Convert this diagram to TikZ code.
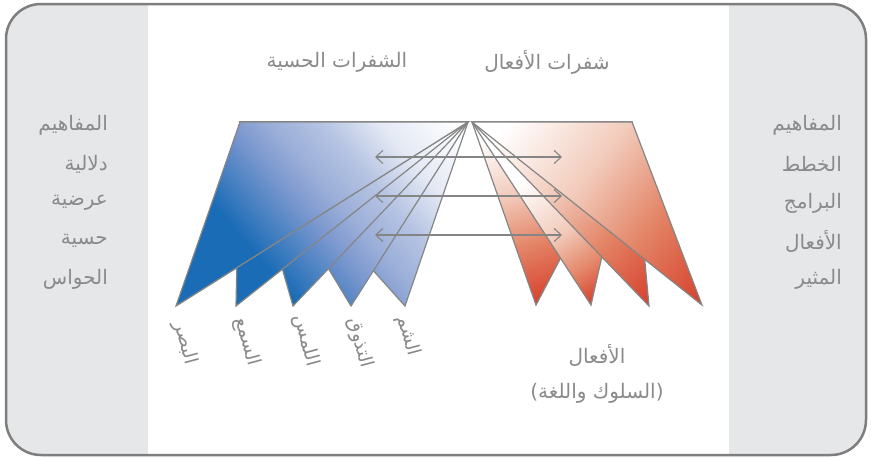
\documentclass[tikz,border=0pt]{standalone}
\usepackage{fontspec}
\usepackage{tikz}
\usetikzlibrary{arrows.meta}
\newfontfamily\arabicfont[Script=Arabic]{DejaVu Sans}
\TeXXeTstate=1

\definecolor{framegray}{HTML}{7E7E7E}
\definecolor{panelgray}{HTML}{E6E7E9}
\definecolor{linegray}{HTML}{858585}
\definecolor{textgray}{HTML}{8A8A8A}
\definecolor{bluedeep}{HTML}{1A6CB6}
\definecolor{bluemid}{HTML}{7B98CF}
\definecolor{bluesoft}{HTML}{9AAED8}
\definecolor{bluelight}{HTML}{B6C4E3}
\definecolor{bluepale}{HTML}{E4E9F4}
\definecolor{reddeep}{HTML}{D6402C}
\definecolor{redmid}{HTML}{E38466}
\definecolor{redlight}{HTML}{F2CBBB}

% ramps: 41.67bp = start point, 58.33bp = full length
\pgfdeclarehorizontalshading{senseshade}{100bp}{color(0bp)=(white); color(41.67bp)=(white);
  color(45.5bp)=(bluepale); color(48.3bp)=(bluelight); color(50.9bp)=(bluesoft);
  color(52.8bp)=(bluemid); color(57bp)=(bluedeep); color(100bp)=(bluedeep)}
\pgfdeclarehorizontalshading{actionshade}{100bp}{color(0bp)=(white); color(43.3bp)=(white);
  color(48.7bp)=(redlight); color(53.3bp)=(redmid); color(58.3bp)=(reddeep); color(100bp)=(reddeep)}
\pgfdeclarehorizontalshading{actionshadelight}{100bp}{color(0bp)=(white); color(47.5bp)=(white);
  color(52.5bp)=(redlight); color(55.8bp)=(redmid); color(58.3bp)=(reddeep); color(100bp)=(reddeep)}

% #1 triangle, #2 start of ramp, #3 ramp angle, #4 ramp length, #5 shading, #6 outline style
\newcommand{\conefill}[6]{%
  \begin{scope}
    \clip #1 -- cycle;
    \begin{scope}[transform canvas={shift={#2},rotate=#3}]
      \shade[shading=#5] (-#4,-500) rectangle ({2*#4},500);
    \end{scope}
  \end{scope}
  \draw[#6] #1 -- cycle;}

\begin{document}
\begin{tikzpicture}[x=1pt,y=-1pt,
    edge/.style={draw=linegray,line width=1.2pt},
    link/.style={draw=linegray,line width=1.1pt,
      {Straight Barb[length=7pt,width=13pt]}-{Straight Barb[length=7pt,width=13pt]}},
    lbl/.style={text=textgray,inner sep=0pt,font=\arabicfont\fontsize{20}{24}\selectfont},
    sense/.style={lbl,font=\arabicfont\fontsize{19}{22}\selectfont,rotate=-75}]
  \useasboundingbox (0,0) rectangle (871,458);

  % frame and side panels
  \begin{scope}
    \clip[rounded corners=35pt] (6,4) rectangle (866,455);
    \fill[panelgray] (6,4) rectangle (148,455);
    \fill[panelgray] (729,4) rectangle (866,455);
  \end{scope}
  \draw[framegray,line width=2.5pt,rounded corners=35pt] (6,4) rectangle (866,455);

  % corners of the two fans
  \coordinate (bl) at (240,122);
  \coordinate (bapex) at (468,122);
  \coordinate (rapex) at (472,122);
  \coordinate (rr) at (632,122);
  \coordinate (b1) at (176,306);
  \coordinate (b2) at (236,306);
  \coordinate (b3) at (293,306);
  \coordinate (b4) at (351,306);
  \coordinate (b5) at (405,306);
  \coordinate (bdup) at (179,304);
  \coordinate (r1) at (536,305);
  \coordinate (r2) at (591,305);
  \coordinate (r3) at (649,306);
  \coordinate (r4) at (702,305);

  % sensory codes (blue)
  \conefill{(bl)--(bapex)--(b5)}{(460,125)}{220.6}{260}{senseshade}{edge}
  \conefill{(bl)--(bapex)--(b4)}{(460,125)}{220.6}{260}{senseshade}{edge}
  \conefill{(bl)--(bapex)--(b3)}{(460,125)}{220.6}{260}{senseshade}{edge}
  \conefill{(bl)--(bapex)--(b2)}{(460,125)}{220.6}{260}{senseshade}{edge}
  \draw[edge] (bapex) -- (bdup);
  \conefill{(bl)--(bapex)--(b1)}{(460,125)}{220.6}{260}{senseshade}{edge}

  % action codes (red)
  \conefill{(rapex)--(rr)--(r1)}{(rapex)}{-70.7}{194}{actionshade}{edge}
  \conefill{(rapex)--(rr)--(r2)}{(rapex)}{-57}{218}{actionshadelight}{edge}
  \conefill{(rapex)--(rr)--(r3)}{(rapex)}{-46.1}{255}{actionshade}{edge}
  \conefill{(rapex)--(rr)--(r4)}{(rapex)}{-38.5}{294}{actionshade}{edge}

  % links between the fans
  \coordinate (al1) at (375,157);
  \coordinate (ar1) at (562,157);
  \coordinate (al2) at (375,196);
  \coordinate (ar2) at (562,196);
  \coordinate (al3) at (375,235);
  \coordinate (ar3) at (562,235);
  \draw[link] (al1) -- (ar1);
  \draw[link] (al2) -- (ar2);
  \draw[link] (al3) -- (ar3);

  % titles
  \node[lbl] (sensetitle) at (337,62) {\beginR الشفرات الحسية\endR};
  \node[lbl] (actiontitle) at (547,62) {\beginR شفرات الأفعال\endR};

  % left column
  \node[lbl,anchor=east] (left1) at (108,125) {\beginR المفاهيم\endR};
  \node[lbl,anchor=east] (left2) at (108,164) {\beginR دلالية\endR};
  \node[lbl,anchor=east] (left3) at (108,203) {\beginR عرضية\endR};
  \node[lbl,anchor=east] (left4) at (108,241) {\beginR حسية\endR};
  \node[lbl,anchor=east] (left5) at (108,279) {\beginR الحواس\endR};

  % right column
  \node[lbl,anchor=east] (right1) at (842,125) {\beginR المفاهيم\endR};
  \node[lbl,anchor=east] (right2) at (842,164) {\beginR الخطط\endR};
  \node[lbl,anchor=east] (right3) at (842,203) {\beginR البرامج\endR};
  \node[lbl,anchor=east] (right4) at (842,241) {\beginR الأفعال\endR};
  \node[lbl,anchor=east] (right5) at (842,279) {\beginR المثير\endR};

  % senses under the blue fan
  \node[sense] (sight) at (185,343) {\beginR البصر\endR};
  \node[sense] (hearing) at (247,342) {\beginR السمع\endR};
  \node[sense] (touch) at (306,341) {\beginR اللمس\endR};
  \node[sense] (taste) at (360,343) {\beginR التذوق\endR};
  \node[sense] (smell) at (408,336) {\beginR الشم\endR};

  % actions under the red fan
  \node[lbl] (acts) at (597,355) {\beginR الأفعال\endR};
  \node[lbl] (actsnote) at (597,393) {\beginR (السلوك واللغة)\endR};
\end{tikzpicture}
\end{document}
